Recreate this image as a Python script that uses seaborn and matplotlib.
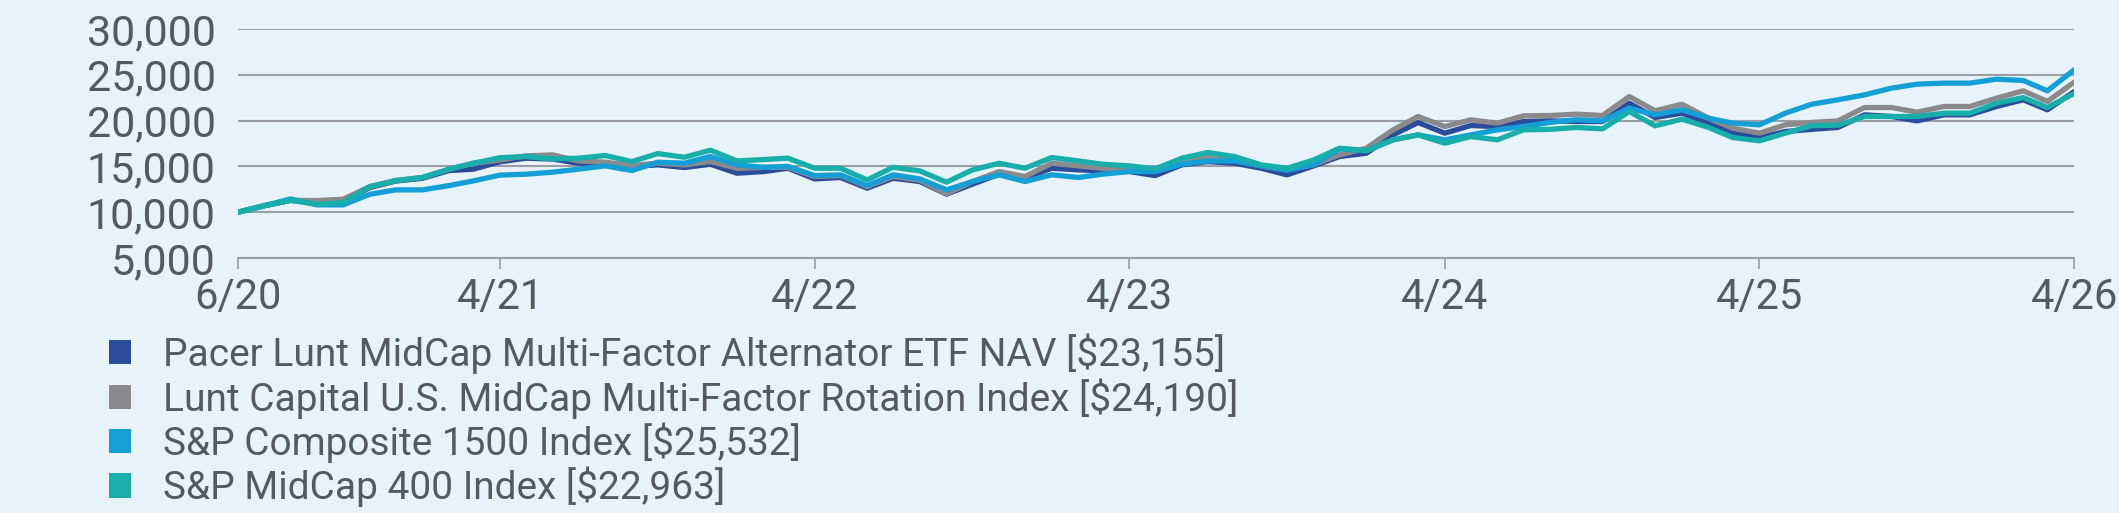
import numpy as np
import pandas as pd
import matplotlib
matplotlib.use("Agg")
import matplotlib.pyplot as plt
from matplotlib.patches import Patch
import seaborn as sns

# growth of $10,000, monthly, 6/2020 - 4/2026
dates = pd.date_range("2020-06-01", "2026-04-01", freq="MS")

pacer_nav = [10000, 10700, 11300, 11000, 11100, 12700, 13400, 13700, 14550, 14700,
             15500, 15900, 15800, 15350, 15240, 14990, 15170, 14880, 15240, 14260,
             14440, 14800, 13640, 13790, 12620, 13710, 13350, 11970, 13060, 14150,
             13710, 14800, 14620, 14510, 14440, 14000, 15170, 15530, 15350, 14800,
             14080, 15060, 16080, 16440, 18440, 19790, 18630, 19460, 19350, 19900,
             19970, 19900, 19900, 21900, 20340, 20810, 19720, 18630, 18150, 18810,
             19050, 19250, 20630, 20450, 19970, 20630, 20630, 21540, 22270, 21180,
             23155]
lunt_index = [10000, 10700, 11300, 11270, 11420, 12800, 13460, 13790, 14700, 15350,
              15700, 16150, 16260, 15600, 15460, 15100, 15350, 15170, 15530, 14800,
              14900, 14900, 13900, 14000, 12800, 13900, 13500, 12000, 13350, 14440,
              13900, 15350, 15060, 14800, 14730, 14510, 15350, 16080, 15710, 15060,
              14620, 15200, 16260, 16990, 18990, 20450, 19350, 20080, 19720, 20520,
              20560, 20700, 20560, 22630, 21070, 21790, 20270, 19170, 18630, 19540,
              19800, 19970, 21430, 21430, 20920, 21540, 21540, 22450, 23250, 22090,
              24190]
sp_1500 = [10000, 10700, 11450, 10800, 10800, 11960, 12440, 12440, 12910, 13420,
           14050, 14150, 14370, 14700, 15060, 14550, 15460, 15350, 16080, 15170,
           14900, 15000, 14000, 14080, 12910, 14080, 13640, 12440, 13350, 14080,
           13350, 14080, 13790, 14150, 14440, 14440, 15240, 15600, 15600, 15060,
           14600, 15200, 16900, 16700, 17900, 18440, 17900, 18440, 18990, 19350,
           19800, 20100, 19970, 21360, 20630, 21180, 20270, 19720, 19540, 20810,
           21800, 22270, 22810, 23540, 23980, 24090, 24090, 24520, 24380, 23250,
           25532]
sp_400 = [10000, 10700, 11300, 10870, 11050, 12800, 13460, 13790, 14700, 15350,
          15950, 16080, 15820, 15900, 16190, 15530, 16400, 16000, 16770, 15600,
          15750, 15900, 14800, 14800, 13530, 14910, 14510, 13280, 14620, 15350,
          14800, 15970, 15600, 15240, 15060, 14730, 15900, 16520, 16080, 15170,
          14800, 15710, 16990, 16730, 17900, 18440, 17530, 18260, 17900, 18990,
          19050, 19250, 19100, 20990, 19430, 20160, 19250, 18150, 17790, 18630,
          19450, 19500, 20450, 20450, 20450, 20810, 20810, 21900, 22520, 21430,
          22963]

series_names = ["Pacer Lunt MidCap Multi-Factor Alternator ETF NAV [$23,155]",
                "Lunt Capital U.S. MidCap Multi-Factor Rotation Index [$24,190]",
                "S&P Composite 1500 Index [$25,532]",
                "S&P MidCap 400 Index [$22,963]"]
colors = ["#2b4b9b", "#8a8a8c", "#14a0d7", "#18afaa"]

tick_dates = pd.to_datetime(["2020-06-01", "2021-04-01", "2022-04-01", "2023-04-01",
                             "2024-04-01", "2025-04-01", "2026-04-01"])
tick_labels = ["6/20", "4/21", "4/22", "4/23", "4/24", "4/25", "4/26"]
y_ticks = [5000, 10000, 15000, 20000, 25000, 30000]

df = pd.DataFrame({"date": np.tile(dates, 4),
                   "value": pacer_nav + lunt_index + sp_1500 + sp_400,
                   "series": np.repeat(series_names, len(dates))})

bg = "#e8f2fa"
txt = "#555a60"
gridc = "#9a9fa5"

sns.set_theme(style="white")
plt.rcParams["font.family"] = ["Roboto", "DejaVu Sans"]

fig = plt.figure(figsize=(21.19, 5.13), dpi=100, facecolor=bg)
ax = fig.add_axes([0.1123, 0.497, 0.8665, 0.4465])
ax.set_facecolor(bg)

sns.lineplot(data=df, x="date", y="value", hue="series", hue_order=series_names,
             palette=colors, linewidth=3.8, legend=False, ax=ax)

ax.set_xlim(dates[0], dates[-1])
ax.set_ylim(5000, 30000)
ax.set_yticks(y_ticks)
ax.set_yticklabels([f"{v:,}" for v in y_ticks])
ax.set_xticks(tick_dates)
ax.set_xticklabels(tick_labels)
ax.yaxis.grid(True, color=gridc, linewidth=1.5)
ax.set_axisbelow(True)
ax.set_xlabel("")
ax.set_ylabel("")
for s in ["top", "right", "left"]:
    ax.spines[s].set_visible(False)
ax.spines["bottom"].set_color(gridc)
ax.spines["bottom"].set_linewidth(1.5)
ax.tick_params(axis="y", length=0, pad=16, labelsize=31, labelcolor=txt)
ax.tick_params(axis="x", length=8, width=1.2, color=gridc, direction="out",
               pad=6, labelsize=30, labelcolor=txt, bottom=True)

handles = [Patch(facecolor=c, edgecolor="none") for c in colors]
leg = fig.legend(handles, series_names, loc="upper left",
                 bbox_to_anchor=(0.044, 0.38), frameon=False,
                 fontsize=28, labelcolor=txt, handlelength=0.58, handleheight=0.58,
                 handletextpad=0.82, labelspacing=0.1, borderaxespad=0)

fig.savefig("out.png", dpi=100, facecolor=bg)
